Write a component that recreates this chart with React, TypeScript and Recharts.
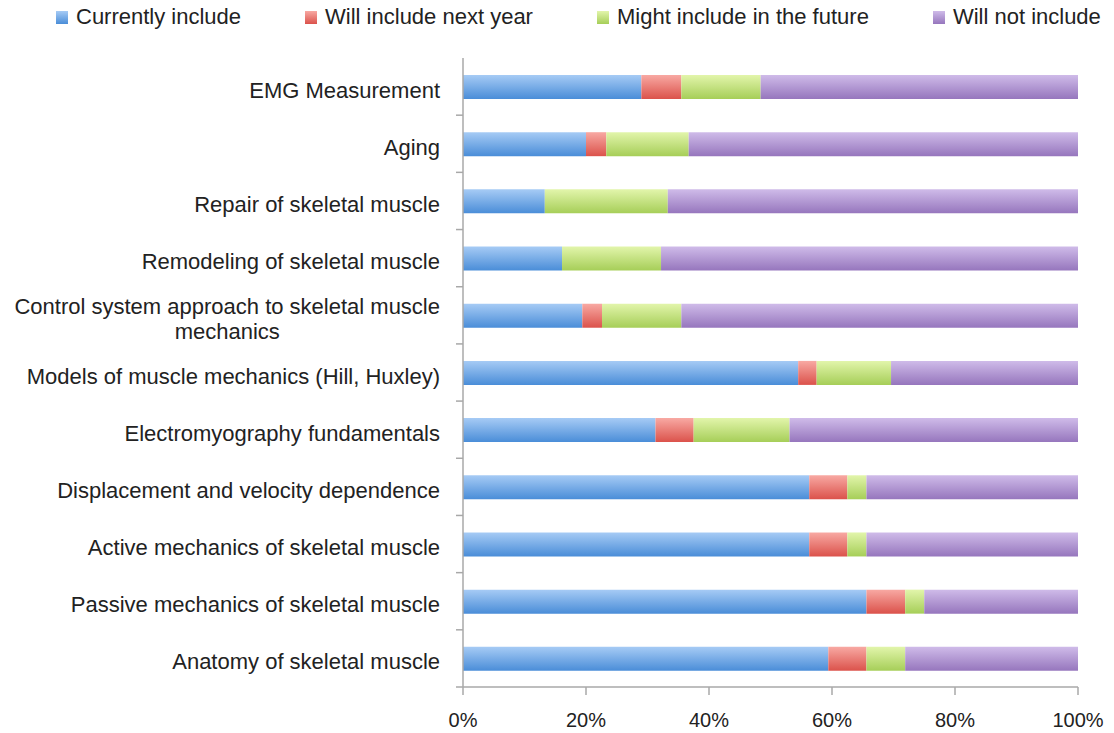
import React from "react";
import { BarChart, Bar, XAxis, YAxis, Legend } from "recharts";

const categories = [
  "EMG Measurement",
  "Aging",
  "Repair of skeletal muscle",
  "Remodeling of skeletal muscle",
  "Control system approach to skeletal muscle mechanics",
  "Models of muscle mechanics (Hill, Huxley)",
  "Electromyography fundamentals",
  "Displacement and velocity dependence",
  "Active mechanics of skeletal muscle",
  "Passive mechanics of skeletal muscle",
  "Anatomy of skeletal muscle",
];

const currentlyInclude = [29.0, 20.0, 13.3, 16.1, 19.4, 54.5, 31.3, 56.3, 56.3, 65.6, 59.4];
const willIncludeNextYear = [6.5, 3.3, 0, 0, 3.2, 3.0, 6.2, 6.2, 6.2, 6.3, 6.2];
const mightIncludeFuture = [12.9, 13.4, 20.0, 16.1, 12.9, 12.1, 15.6, 3.1, 3.1, 3.1, 6.3];
const willNotInclude = [51.6, 63.3, 66.7, 67.8, 64.5, 30.4, 46.9, 34.4, 34.4, 25.0, 28.1];

const xTicks = [0, 0.2, 0.4, 0.6, 0.8, 1];

const seriesNames = [
  "Currently include",
  "Will include next year",
  "Might include in the future",
  "Will not include",
];

const data = categories.map((category, i) => ({
  category,
  current: currentlyInclude[i],
  nextYear: willIncludeNextYear[i],
  future: mightIncludeFuture[i],
  willNot: willNotInclude[i],
}));

const FONT = "'Liberation Sans', Arial, sans-serif";
const AXIS = "#a8a8a8";
const TEXT = "#222222";
const Y_MARGIN = 23;

const palette = [
  { id: "gBlue", top: "#a6cbf5", bottom: "#4a8dd8" },
  { id: "gRed", top: "#f8a9a3", bottom: "#db524b" },
  { id: "gGreen", top: "#e2f5ab", bottom: "#a6ce58" },
  { id: "gPurple", top: "#cfbbe9", bottom: "#9676bd" },
];

let ctx: CanvasRenderingContext2D | null = null;
function measure(s: string, font: string) {
  if (!ctx) {
    const c = document.createElement("canvas");
    ctx = c.getContext("2d");
  }
  if (!ctx) return s.length * 11;
  ctx.font = font;
  return ctx.measureText(s).width;
}

function wrap(label: string, maxW: number, font: string) {
  const words = label.split(" ");
  const lines: string[] = [];
  let cur = "";
  for (const w of words) {
    const t = cur ? cur + " " + w : w;
    if (measure(t, font) > maxW && cur) {
      lines.push(cur);
      cur = w;
    } else cur = t;
  }
  if (cur) lines.push(cur);
  return lines;
}

function YTick(props: any) {
  const { x, y, payload } = props;
  const font = `22px ${FONT}`;
  const lines = wrap(String(payload.value), 440, font);
  const axisX = x + Y_MARGIN;
  const off = payload && payload.offset;
  const maxW = Math.max(...lines.map((l) => measure(l, font)));
  const multi = lines.length > 1;
  const lh = 25.5;
  return (
    <g>
      {off ? (
        <line x1={axisX - 7} x2={axisX} y1={y + off} y2={y + off} stroke={AXIS} strokeWidth={1.5} />
      ) : null}
      <text
        fontFamily={FONT}
        fontSize={22}
        fill={TEXT}
        textAnchor={multi ? "middle" : "end"}
      >
        {lines.map((l, i) => (
          <tspan
            key={i}
            x={multi ? x - maxW / 2 : x}
            y={y + 11 + (i - (lines.length - 1) / 2) * lh}
          >
            {l}
          </tspan>
        ))}
      </text>
    </g>
  );
}

function LegendContent() {
  return (
    <div
      style={{
        display: "flex",
        alignItems: "center",
        height: 34,
        paddingLeft: 56,
        gap: 64,
        fontFamily: FONT,
        fontSize: 22,
        color: TEXT,
        whiteSpace: "nowrap",
      }}
    >
      {seriesNames.map((n, i) => (
        <div key={n} style={{ display: "flex", alignItems: "center" }}>
          <span
            style={{
              display: "inline-block",
              width: 12,
              height: 13,
              marginRight: 8,
              background: `linear-gradient(${palette[i].top}, ${palette[i].bottom})`,
            }}
          />
          <span>{n}</span>
        </div>
      ))}
    </div>
  );
}

export default function App() {
  return (
    <div style={{ position: "absolute", left: 0, top: 0, width: 1114, height: 733, background: "#fff" }}>
      <BarChart
        width={1114}
        height={733}
        data={data}
        layout="vertical"
        stackOffset="expand"
        barSize={24}
        margin={{ top: 22, right: 36, bottom: 0, left: 0 }}
      >
        <defs>
          {palette.map((p) => (
            <linearGradient key={p.id} id={p.id} x1="0" y1="0" x2="0" y2="1">
              <stop offset="0%" stopColor={p.top} />
              <stop offset="100%" stopColor={p.bottom} />
            </linearGradient>
          ))}
        </defs>
        <XAxis
          type="number"
          domain={[0, 1]}
          ticks={xTicks}
          tickFormatter={(v: number) => `${Math.round(v * 100)}%`}
          height={46}
          stroke={AXIS}
          strokeWidth={1.5}
          tickSize={8}
          tickMargin={18}
          tick={{ fill: TEXT, fontSize: 20, fontFamily: FONT }}
        />
        <YAxis
          type="category"
          dataKey="category"
          width={463}
          stroke={AXIS}
          strokeWidth={1.5}
          tickLine={false}
          tickSize={0}
          tickMargin={Y_MARGIN}
          interval={0}
          tick={<YTick />}
        />
        <Legend
          verticalAlign="top"
          height={36}
          content={<LegendContent />}
          wrapperStyle={{ top: 0, left: 0, width: 1114 }}
        />
        <Bar dataKey="current" name={seriesNames[0]} stackId="a" fill="url(#gBlue)" isAnimationActive={false} />
        <Bar dataKey="nextYear" name={seriesNames[1]} stackId="a" fill="url(#gRed)" isAnimationActive={false} />
        <Bar dataKey="future" name={seriesNames[2]} stackId="a" fill="url(#gGreen)" isAnimationActive={false} />
        <Bar dataKey="willNot" name={seriesNames[3]} stackId="a" fill="url(#gPurple)" isAnimationActive={false} />
      </BarChart>
    </div>
  );
}
